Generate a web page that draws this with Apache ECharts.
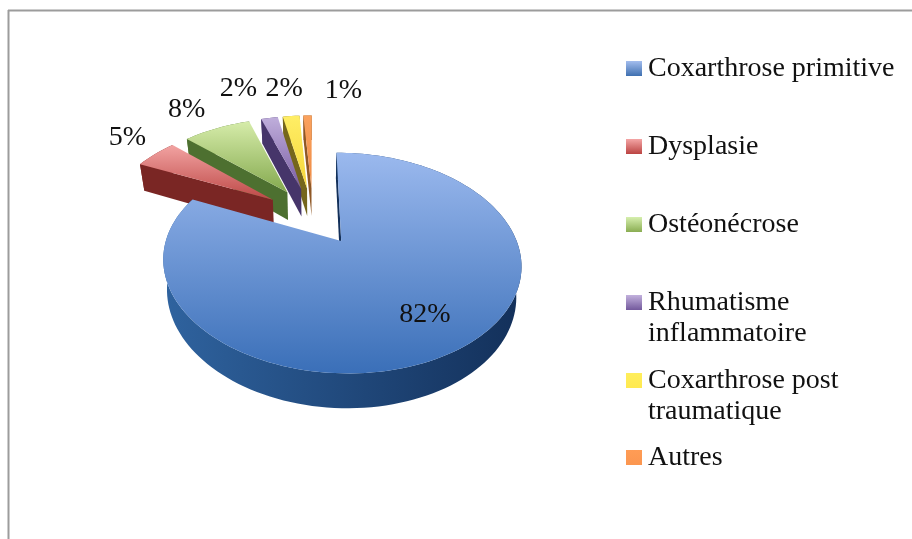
<!DOCTYPE html>
<html><head><meta charset="utf-8">
<style>html,body{margin:0;padding:0;background:#fff}#c{width:912px;height:539px}</style>
<script src="https://cdn.jsdelivr.net/npm/echarts@6/dist/echarts.min.js"></script>
</head><body><div id="c"></div>
<script>
const categories = ["Coxarthrose primitive","Dysplasie","Ostéonécrose","Rhumatisme\ninflammatoire","Coxarthrose post\ntraumatique","Autres"];
const values = [82,5,8,2,2,1];

const topColors  = [["#9bb9ee","#3a6fb8"],["#f2a3a2","#bd4846"],["#d6ecaa","#84a94e"],["#bfaedb","#7a5da3"],["#ffee66","#f5d63a"],["#fba25e","#ee8b45"]];
const sideColors = [["#2f639f","#13305a"],["#8e2b29","#7a2624"],["#5c8236","#4d7030"],["#54417d","#46356a"],["#8c7a22","#75661c"],["#ad6b2f","#8f5826"]];
const legendColors = [["#a3bdee","#3f70b0"],["#f4a5a5","#bb4442"],["#d6efae","#8aad52"],["#c2b1dd","#73599c"],["#ffee5c","#ffe950"],["#ff9c55","#fb9650"]];
const labelOffsets = [[-35,-34],[-28,-16],[-30,-19],[-31,-29],[-7,-27],[36,-25]];
const legendTops = [61,139,217,295,373,450];
const paintOrder = [5,4,3,2,1,0];

const GEO = {cx:313, cy:215.5, A:167, B:96, k:0.19, E:0.3};
const FONT = '"Liberation Serif", serif';
const total = values.reduce((a,b)=>a+b,0);
const rad = d => d*Math.PI/180;

function project(u,v){
  const den = 1+GEO.k*v;
  return [GEO.cx+GEO.A*u/den, GEO.cy-GEO.B*v/den];
}
function lower(p){
  return [GEO.cx+(p[0]-GEO.cx)*0.975, p[1]+28.5+0.04*(p[1]-215)];
}
function grad(c,horizontal){
  return new echarts.graphic.LinearGradient(0,0,horizontal?1:0,horizontal?0:1,[{offset:0,color:c[0]},{offset:1,color:c[1]}]);
}
function renderSlice(params,api){
  const i = paintOrder[params.dataIndex];
  let before = 0;
  for(let j=0;j<i;j++) before += values[j];
  const a0 = before/total*360, a1 = (before+values[i])/total*360, mid=(a0+a1)/2;
  const ox = GEO.E*Math.sin(rad(mid)), oy = GEO.E*Math.cos(rad(mid));
  const apex = project(ox,oy);
  const rim = [];
  const n = Math.max(4,Math.ceil((a1-a0)/2));
  for(let s=0;s<=n;s++){
    const t = rad(a0+(a1-a0)*s/n);
    rim.push(project(ox+Math.sin(t),oy+Math.cos(t)));
  }
  const rimLow = rim.map(lower);
  const children = [];
  children.push({type:'polygon',shape:{points:rim.concat(rimLow.slice().reverse())},
    style:{fill:grad(sideColors[i],true)}});
  children.push({type:'polygon',shape:{points:[apex,rim[0],rimLow[0],lower(apex)]},
    style:{fill:sideColors[i][1]}});
  children.push({type:'polygon',shape:{points:[apex].concat(rim)},
    style:{fill:grad(topColors[i],false)}});
  const lp = project(ox+Math.sin(rad(mid)),oy+Math.cos(rad(mid)));
  children.push({type:'text',x:lp[0]+labelOffsets[i][0],y:lp[1]+labelOffsets[i][1],z2:50,
    style:{text:values[i]+'%',fill:'#111',font:'28px '+FONT,align:'center',verticalAlign:'middle'}});
  return {type:'group',children};
}

const graphics = [
  {type:'line',shape:{x1:8,y1:10.5,x2:912,y2:10.5},style:{stroke:'#9c9c9c',lineWidth:2}},
  {type:'line',shape:{x1:8.5,y1:10,x2:8.5,y2:539},style:{stroke:'#9c9c9c',lineWidth:2}}
];
categories.forEach((name,i)=>{
  graphics.push({type:'rect',shape:{x:626,y:legendTops[i],width:16,height:15},style:{fill:grad(legendColors[i],false)}});
  graphics.push({type:'text',x:648,y:legendTops[i]-8,style:{text:name,fill:'#111',font:'28px '+FONT,lineHeight:31,align:'left',verticalAlign:'top'}});
});

const chart = echarts.init(document.getElementById('c'),null,{renderer:'canvas'});
chart.setOption({
  animation:false,
  backgroundColor:'#fff',
  graphic:{elements:graphics},
  series:[{type:'custom',coordinateSystem:'none',renderItem:renderSlice,data:paintOrder.map(i=>[values[i]]),silent:true}]
});
</script></body></html>
